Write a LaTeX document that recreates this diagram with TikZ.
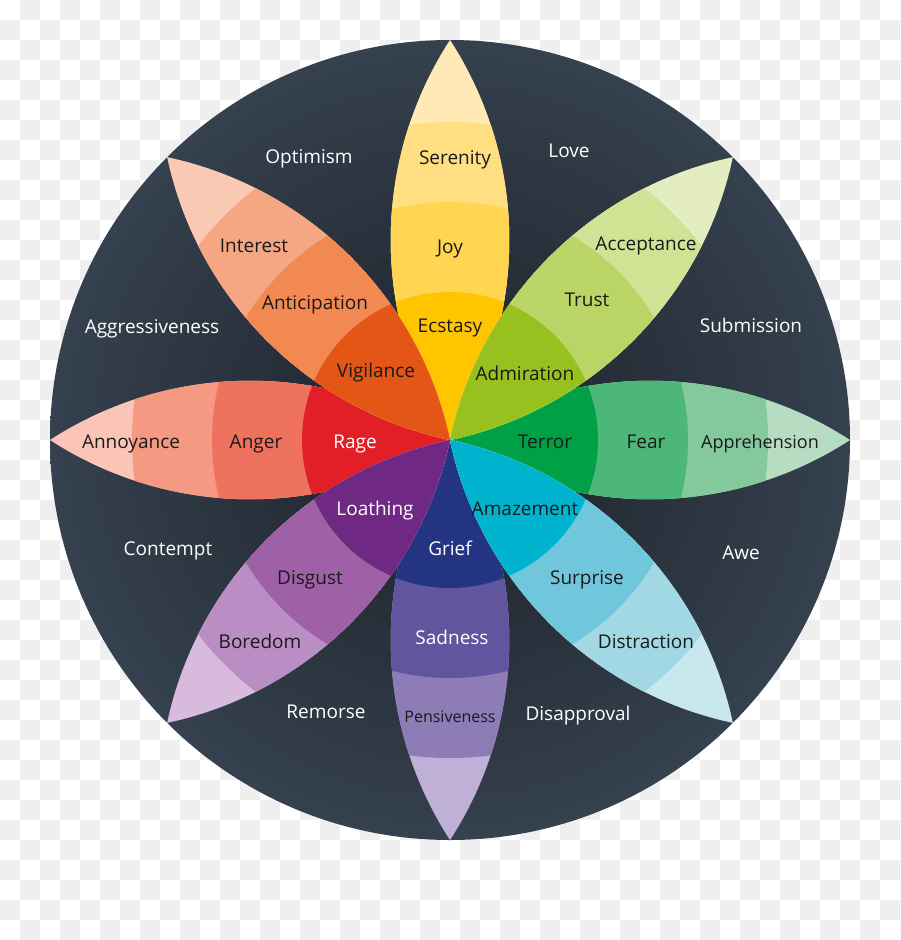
\documentclass[tikz,border=0pt]{standalone}
\usepackage{fontspec}
\setmainfont{Open Sans}
\definecolor{chk}{RGB}{239,239,239}
\definecolor{bgin}{RGB}{27,32,39}
\definecolor{bgout}{RGB}{53,65,78}
\definecolor{txtdark}{RGB}{26,26,26}
% joy
\definecolor{joyA}{RGB}{255,198,0}
\definecolor{joyB}{RGB}{255,213,82}
\definecolor{joyC}{RGB}{255,223,130}
\definecolor{joyD}{RGB}{255,234,182}
% trust
\definecolor{truA}{RGB}{150,193,31}
\definecolor{truB}{RGB}{186,213,102}
\definecolor{truC}{RGB}{208,226,148}
\definecolor{truD}{RGB}{227,237,192}
% fear
\definecolor{feaA}{RGB}{0,160,70}
\definecolor{feaB}{RGB}{76,183,120}
\definecolor{feaC}{RGB}{132,201,155}
\definecolor{feaD}{RGB}{182,221,194}
% surprise
\definecolor{surA}{RGB}{0,180,208}
\definecolor{surB}{RGB}{112,199,219}
\definecolor{surC}{RGB}{161,216,228}
\definecolor{surD}{RGB}{200,232,240}
% sadness
\definecolor{sadA}{RGB}{35,52,130}
\definecolor{sadB}{RGB}{97,85,160}
\definecolor{sadC}{RGB}{141,124,182}
\definecolor{sadD}{RGB}{190,176,215}
% disgust
\definecolor{disA}{RGB}{111,41,130}
\definecolor{disB}{RGB}{158,97,166}
\definecolor{disC}{RGB}{186,141,196}
\definecolor{disD}{RGB}{216,186,221}
% anger
\definecolor{angA}{RGB}{226,31,38}
\definecolor{angB}{RGB}{239,114,95}
\definecolor{angC}{RGB}{245,153,131}
\definecolor{angD}{RGB}{250,196,182}
% anticipation
\definecolor{antA}{RGB}{228,86,22}
\definecolor{antB}{RGB}{242,136,82}
\definecolor{antC}{RGB}{245,166,130}
\definecolor{antD}{RGB}{250,201,179}
\newcommand\petal[5]{%
  \begin{scope}[shift={(450,-440)},rotate=#1]
    \begin{scope}
      \clip (0,0) arc[start angle=123, end angle=57, radius=367.24]
            arc[start angle=-57, end angle=-123, radius=367.24] -- cycle;
      \fill[#5] (0,0) circle[radius=402];
      \fill[#4] (0,0) circle[radius=318];
      \fill[#3] (0,0) circle[radius=238];
      \fill[#2] (0,0) circle[radius=148];
    \end{scope}
  \end{scope}}
\begin{document}
\begin{tikzpicture}[x=1pt,y=1pt,
  lbl/.style={font=\fontsize{19}{21}\selectfont, text height=1.25em, text depth=0pt, inner sep=0pt, anchor=center},
  dk/.style={lbl, text=txtdark},
  wt/.style={lbl, text=white}]
\useasboundingbox (0,0) rectangle (900,-940);
% checkerboard background
\begin{scope}
  \clip (0,0) rectangle (900,-940);
  \fill[white] (0,0) rectangle (900,-940);
  \foreach \i in {0,...,22}{\foreach \j in {0,...,23}{%
    \fill[chk] ({40*\i+20},{-40*\j}) rectangle ++(20,-20);
    \fill[chk] ({40*\i},{-40*\j-20}) rectangle ++(20,-20);}}
\end{scope}
% dark disc
\shade[inner color=bgin, outer color=bgout] (450,-440) circle[radius=400];
% petals: cardinal first, diagonal on top
\petal{90}{joyA}{joyB}{joyC}{joyD}
\petal{-90}{sadA}{sadB}{sadC}{sadD}
\petal{0}{feaA}{feaB}{feaC}{feaD}
\petal{180}{angA}{angB}{angC}{angD}
\petal{45}{truA}{truB}{truC}{truD}
\petal{135}{antA}{antB}{antC}{antD}
\petal{-45}{surA}{surB}{surC}{surD}
\petal{-135}{disA}{disB}{disC}{disD}
% labels (image coordinates)
\begin{scope}[yscale=-1]
  % outer
  \node[wt] (optimism) at (309,157) {Optimism};
  \node[wt] (love) at (569,151) {Love};
  \node[wt] (submission) at (751,326) {Submission};
  \node[wt] (awe) at (741,553) {Awe};
  \node[wt] (disapproval) at (578,714) {Disapproval};
  \node[wt] (remorse) at (326,712) {Remorse};
  \node[wt] (contempt) at (168,549) {Contempt};
  \node[wt] (aggressiveness) at (152,327) {Aggressiveness};
  % joy
  \node[dk] (serenity) at (455,158) {Serenity};
  \node[dk] (joy) at (450,247) {Joy};
  \node[dk] (ecstasy) at (450,326) {Ecstasy};
  % trust
  \node[dk] (acceptance) at (646,244) {Acceptance};
  \node[dk] (trust) at (587,300) {Trust};
  \node[dk] (admiration) at (525,374) {Admiration};
  % fear
  \node[dk] (terror) at (545,442) {Terror};
  \node[dk] (fear) at (646,442) {Fear};
  \node[dk, font=\fontsize{18}{20}\selectfont] (apprehension) at (760,442) {Apprehension};
  % surprise
  \node[dk] (amazement) at (525,509) {Amazement};
  \node[dk] (surprise) at (587,578) {Surprise};
  \node[dk] (distraction) at (646,642) {Distraction};
  % sadness
  \node[wt] (grief) at (450,549) {Grief};
  \node[wt] (sadness) at (452,638) {Sadness};
  \node[dk, font=\fontsize{16}{18}\selectfont] (pensiveness) at (450,716) {Pensiveness};
  % disgust
  \node[wt] (loathing) at (375,509) {Loathing};
  \node[dk] (disgust) at (310,578) {Disgust};
  \node[dk] (boredom) at (260,642) {Boredom};
  % anger
  \node[wt] (rage) at (355,442) {Rage};
  \node[dk] (anger) at (256,442) {Anger};
  \node[dk] (annoyance) at (131,442) {Annoyance};
  % anticipation
  \node[dk] (vigilance) at (376,371) {Vigilance};
  \node[dk] (anticipation) at (315,303) {Anticipation};
  \node[dk] (interest) at (254,246) {Interest};
\end{scope}
\end{tikzpicture}
\end{document}
